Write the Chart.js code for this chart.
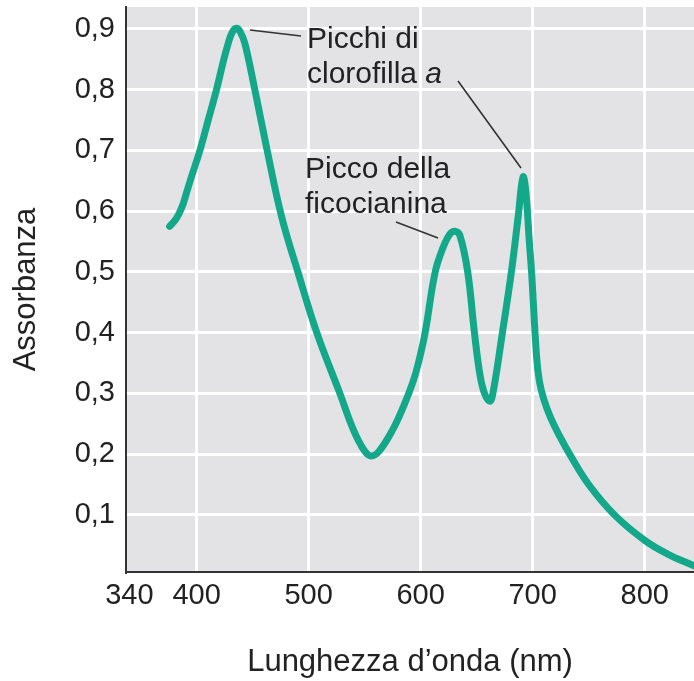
<!DOCTYPE html>
<html>
<head>
<meta charset="utf-8">
<script src="https://cdn.jsdelivr.net/npm/chart.js@4"></script>
<style>
  html, body { margin: 0; padding: 0; background: #fff; }
  #wrap { width: 694px; height: 681px; }
</style>
</head>
<body>
<div id="wrap"><canvas id="myChart" width="694" height="681"></canvas></div>
<script>
"use strict";

// wavelengths (nm)
let wavelength = [376, 382, 387, 391, 395.5, 403, 410.4, 417.8, 423, 428.2, 432, 435.7, 439, 443.1, 452, 463, 476, 490.4, 507.3, 527.9, 540, 550, 556, 563, 575, 585, 593, 598, 604, 613, 620, 626, 630.5, 635, 642, 648, 653, 657, 661.7, 664.5, 673, 681, 687, 691.4, 694, 697, 699, 703.5, 706, 710, 716, 724, 733, 750, 773, 800, 820, 844];
// absorbance at those wavelengths
let absorbance = [0.575, 0.588, 0.607, 0.63, 0.657, 0.70, 0.75, 0.80, 0.84, 0.876, 0.895, 0.901, 0.895, 0.876, 0.80, 0.70, 0.59, 0.50, 0.40, 0.30, 0.24, 0.205, 0.197, 0.205, 0.24, 0.28, 0.318, 0.35, 0.40, 0.50, 0.54, 0.562, 0.567, 0.56, 0.50, 0.40, 0.33, 0.30, 0.287, 0.30, 0.40, 0.50, 0.59, 0.656, 0.63, 0.55, 0.50, 0.36, 0.32, 0.29, 0.26, 0.23, 0.20, 0.15, 0.10, 0.058, 0.036, 0.016];

let xTicks = [340, 400, 500, 600, 700, 800];
let yTicks = [0.1, 0.2, 0.3, 0.4, 0.5, 0.6, 0.7, 0.8, 0.9];

let fontFamily = '"Liberation Sans", Arial, Helvetica, sans-serif';
let textColor = "#222";
let curveColor = "#13a88a";

let points = wavelength.map((w, i) => ({ x: w, y: absorbance[i] }));

// gray plot background
const plotBackground = {
    id: "plotBackground",
    beforeDraw(chart) {
        const { ctx, chartArea } = chart;
        ctx.save();
        ctx.fillStyle = "#e3e2e4";
        ctx.fillRect(chartArea.left, chartArea.top, chartArea.right - chartArea.left, chartArea.bottom - chartArea.top);
        ctx.restore();
    }
};

// labels with leader lines
const peakLabels = {
    id: "peakLabels",
    afterDatasetsDraw(chart) {
        const ctx = chart.ctx;
        ctx.save();
        ctx.strokeStyle = "#333";
        ctx.lineWidth = 1.6;
        ctx.beginPath();
        ctx.moveTo(250, 30); ctx.lineTo(301, 36);
        ctx.moveTo(458, 81); ctx.lineTo(521, 168);
        ctx.moveTo(396, 222); ctx.lineTo(438, 238);
        ctx.stroke();

        ctx.fillStyle = textColor;
        ctx.textBaseline = "alphabetic";
        ctx.textAlign = "left";
        ctx.font = "30px " + fontFamily;
        ctx.fillText("Picchi di", 307, 48);
        ctx.fillText("clorofilla ", 307, 83);
        let w = ctx.measureText("clorofilla ").width;
        ctx.font = "italic 30px " + fontFamily;
        ctx.fillText("a", 307 + w, 83);
        ctx.font = "30px " + fontFamily;
        ctx.fillText("Picco della", 305, 178);
        ctx.fillText("ficocianina", 305, 213);
        ctx.restore();
    }
};

const ctx = document.getElementById("myChart");

new Chart(ctx, {
    type: "line",
    data: {
        datasets: [{
            data: points,
            borderColor: curveColor,
            borderWidth: 7,
            pointRadius: 0,
            tension: 0.4,
            borderCapStyle: "round",
            borderJoinStyle: "round",
            fill: false
        }]
    },
    options: {
        responsive: false,
        animation: false,
        layout: { padding: 0 },
        plugins: {
            legend: { display: false },
            tooltip: { enabled: false }
        },
        scales: {
            x: {
                type: "linear",
                min: 337,
                max: 844,
                afterBuildTicks: scale => { scale.ticks = xTicks.map(v => ({ value: v })); },
                afterFit: scale => { scale.height = 109; scale.paddingRight = 0; },
                grid: {
                    color: c => (c.tick && c.tick.value === 340) ? "rgba(0,0,0,0)" : "#ffffff",
                    lineWidth: 3,
                    drawTicks: false
                },
                border: { display: true, color: "#333", width: 2 },
                ticks: {
                    padding: 7,
                    color: textColor,
                    font: { family: fontFamily, size: 29 },
                    maxRotation: 0,
                    autoSkip: false
                },
                title: {
                    display: true,
                    text: "Lunghezza d’onda (nm)",
                    color: textColor,
                    font: { family: fontFamily, size: 31 },
                    padding: { top: 0, bottom: 0 }
                }
            },
            y: {
                min: 0.006,
                max: 0.936,
                afterBuildTicks: scale => { scale.ticks = yTicks.map(v => ({ value: v })); },
                afterFit: scale => {
                    scale.width = 126;
                    scale.paddingTop = 7;
                    scale.paddingBottom = 0;
                },
                grid: {
                    color: "#ffffff",
                    lineWidth: 3,
                    drawTicks: false
                },
                border: { display: true, color: "#333", width: 2 },
                ticks: {
                    padding: 11,
                    color: textColor,
                    font: { family: fontFamily, size: 29 },
                    callback: v => v.toFixed(1).replace(".", ",")
                },
                title: {
                    display: true,
                    text: "Assorbanza",
                    color: textColor,
                    font: { family: fontFamily, size: 31 },
                    padding: { top: 8, bottom: 0 }
                }
            }
        }
    },
    plugins: [plotBackground, peakLabels]
});
</script>
</body>
</html>
